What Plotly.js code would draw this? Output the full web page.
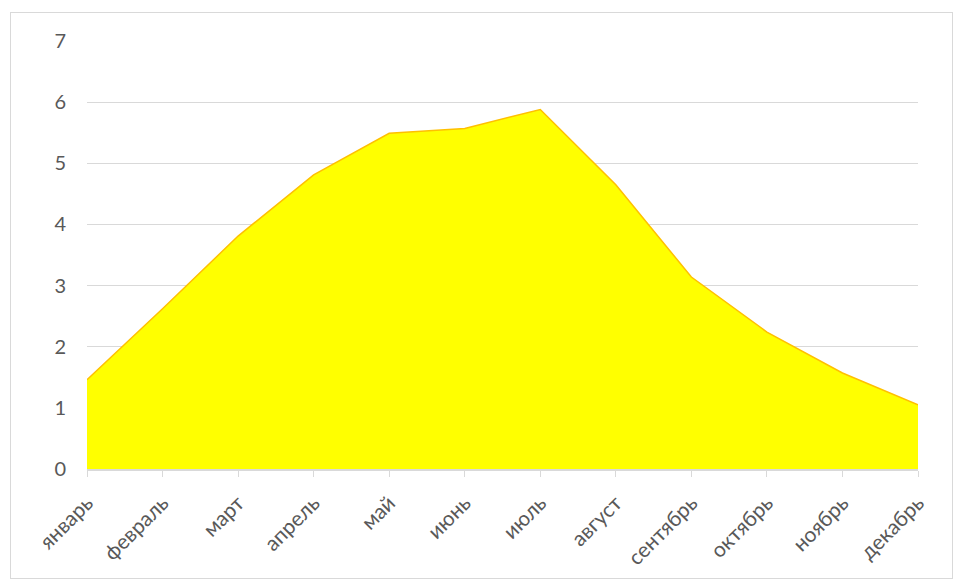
<!DOCTYPE html>
<html>
<head>
<meta charset="utf-8">
<script src="https://cdn.plot.ly/plotly-3.0.1.min.js"></script>
<style>
html,body{margin:0;padding:0;background:#fff;}
#frame{position:absolute;left:10px;top:12px;width:941px;height:565px;border:1px solid #d9d9d9;}
#chart{position:absolute;left:0;top:0;width:955px;height:581px;}
</style>
</head>
<body>
<div id="frame"></div>
<div id="chart"></div>
<script>
const months = ["январь","февраль","март","апрель","май","июнь","июль","август","сентябрь","октябрь","ноябрь","декабрь"];
const values = [1.46, 2.62, 3.81, 4.81, 5.49, 5.57, 5.88, 4.65, 3.14, 2.24, 1.57, 1.05];
const yTicks = [0,1,2,3,4,5,6,7];

const trace = {
  type: "scatter",
  mode: "lines",
  x: months,
  y: values,
  fill: "tozeroy",
  fillcolor: "#ffff00",
  line: {color: "#ffc000", width: 1.5},
  hoverinfo: "x+y"
};

const layout = {
  width: 955, height: 581,
  margin: {l: 87, r: 37, t: 41, b: 112},
  paper_bgcolor: "rgba(0,0,0,0)",
  plot_bgcolor: "rgba(0,0,0,0)",
  showlegend: false,
  font: {family: "Lato, Open Sans, sans-serif", color: "#595959", size: 20},
  xaxis: {
    type: "category",
    range: [0, months.length - 1],
    tickangle: -45,
    showgrid: false,
    showline: true,
    linecolor: "#d9d9d9",
    linewidth: 1.5,
    ticks: "outside",
    ticklen: 6,
    tickcolor: "#d9d9d9",
    ticklabelstandoff: 6,
    tickfont: {size: 21, color: "#595959"},
    zeroline: false,
    fixedrange: true
  },
  yaxis: {
    range: [0, 7],
    tickvals: yTicks,
    ticktext: yTicks.map(String),
    showgrid: true,
    gridcolor: "#d9d9d9",
    gridwidth: 1,
    zeroline: false,
    showline: false,
    ticks: "",
    ticklabelstandoff: 20,
    tickfont: {size: 20, color: "#595959"},
    fixedrange: true
  }
};

Plotly.newPlot("chart", [trace], layout, {displayModeBar: false, staticPlot: true});
</script>
</body>
</html>
